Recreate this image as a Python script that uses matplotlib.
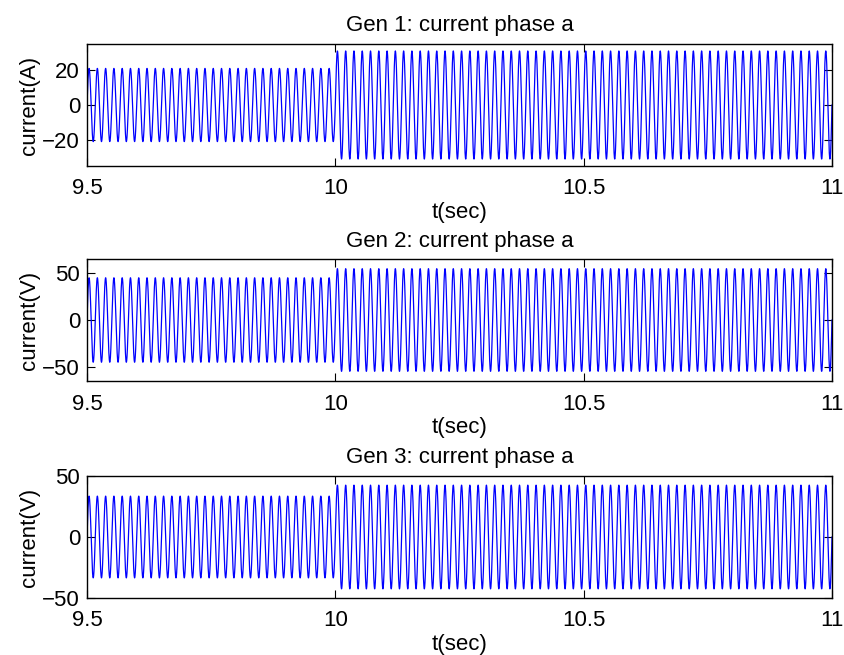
import numpy as np
import matplotlib
matplotlib.use('agg')
from matplotlib import pyplot as plt

# generator phase-a currents, amplitude before and after the step at t=10s
titles = ["Gen 1: current phase a", "Gen 2: current phase a", "Gen 3: current phase a"]
ylabels = ["current(A)", "current(V)", "current(V)"]
amp_before = [21.0, 45.0, 33.5]
amp_after = [31.0, 54.7, 42.5]
ylims = [(-35, 35), (-65, 65), (-50, 50)]
yticks = [[-20, 0, 20], [-50, 0, 50], [-50, 0, 50]]
xticks = [9.5, 10, 10.5, 11]
xticklabels = ["9.5", "10", "10.5", "11"]
FREQ = 60.0
T_STEP = 10.0

plt.rcParams['font.family'] = ['Liberation Sans', 'DejaVu Sans']
plt.rcParams['font.size'] = 16


def main():
    t = np.arange(9.5, 11.0 + 1e-5, 5e-5)
    fig = plt.figure(figsize=(8.45, 6.55), dpi=100)
    tops = [44, 259, 476]
    h = 122
    for k in range(3):
        ax = fig.add_axes([87 / 845., 1 - (tops[k] + h) / 655., (832 - 87) / 845., h / 655.])
        amp = np.where(t < T_STEP, amp_before[k], amp_after[k])
        ax.plot(t, amp * np.sin(2 * np.pi * FREQ * (t - 9.5)), color='#0000ff', lw=0.9)
        ax.set_xlim(9.5, 11)
        ax.set_ylim(*ylims[k])
        ax.set_xticks(xticks)
        ax.set_xticklabels(xticklabels)
        ax.set_yticks(yticks[k])
        ax.set_yticklabels([str(v).replace('-', '\u2212') for v in yticks[k]])
        ax.tick_params(direction='in', top=True, right=True, length=6, width=0.8, labelsize=16)
        ax.tick_params(axis='x', pad=9)
        ax.tick_params(axis='y', pad=5)
        for s in ax.spines.values():
            s.set_linewidth(1.0)
        ax.set_title(titles[k], fontsize=16, pad=9)
        ax.set_xlabel("t(sec)", fontsize=16, labelpad=2)
        ax.set_ylabel(ylabels[k], fontsize=16, labelpad=2)

    fig.savefig("out.png", dpi=100)


if __name__ == "__main__":
    main()
